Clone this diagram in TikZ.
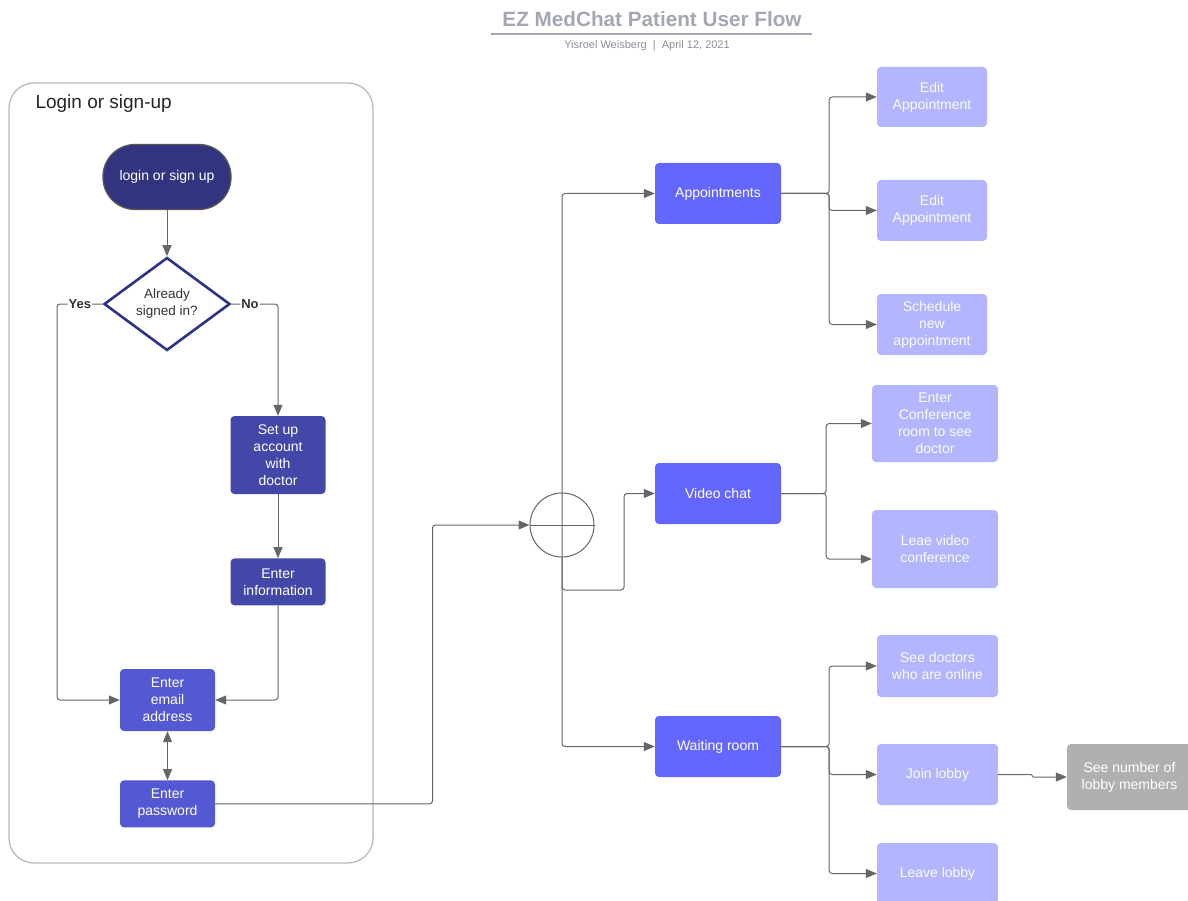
\documentclass[tikz,border=0pt]{standalone}
\usepackage{fontspec}
\setmainfont{Liberation Sans}
\usetikzlibrary{positioning,shapes.geometric,arrows.meta}
\definecolor{titlegray}{HTML}{A3A7B3}
\definecolor{darknavy}{HTML}{333480}
\definecolor{navyline}{HTML}{2E3384}
\definecolor{midnavy}{HTML}{4347A7}
\definecolor{softnavy}{HTML}{5358D3}
\definecolor{brightblue}{HTML}{6467FF}
\definecolor{paleblue}{HTML}{B3B5FF}
\definecolor{stonegray}{HTML}{B0B0B0}
\definecolor{linkgray}{HTML}{666666}
\definecolor{framegray}{HTML}{B8B8B8}
\newcommand{\boxfont}{\fontsize{14}{17}\selectfont}

\tikzset{
  card/.style={rectangle, rounded corners=4pt, inner sep=0pt, align=center,
    text=white, font=\boxfont},
  darkcard/.style={card, fill=midnavy, minimum width=95pt},
  emailcard/.style={card, fill=softnavy, minimum width=95pt},
  topic/.style={card, fill=brightblue, minimum width=126pt, minimum height=61pt},
  option/.style={card, fill=paleblue, text=white!96!paleblue},
  link/.style={draw=linkgray, line width=1pt, rounded corners=3pt,
    -{Triangle[length=11pt,width=9pt]}},
  plain/.style={draw=linkgray, line width=1pt},
  answer/.style={fill=white, inner sep=1pt, text=black!80,
    font=\fontsize{13}{15}\selectfont\bfseries}
}

\begin{document}
\begin{tikzpicture}[x=1pt,y=-1pt]
  \useasboundingbox (0,0) rectangle (1188,901);

  % Title
  \node[text=titlegray, font=\fontsize{20.7}{24}\selectfont\bfseries] (title) at (652,19) {EZ MedChat Patient User Flow};
  \draw[titlegray, line width=1.6pt] (491,34) -- (812,34);
  \node[text=titlegray!85!black, font=\fontsize{11}{13}\selectfont] (byline) at (647,46) {Yisroel Weisberg \ | \ April 12, 2021};

  % Login container
  \draw[framegray, line width=1.3pt, rounded corners=25pt] (9,83) rectangle (373,863);
  \node[anchor=west, text=black!85, font=\fontsize{19}{22}\selectfont] (boxlabel) at (32,104) {Login or sign-up};

  % Login flow
  \node[rectangle, rounded corners=32pt, fill=darknavy, draw=black!65, line width=1.3pt,
    minimum width=128pt, minimum height=65pt, text=white, font=\boxfont] (start) at (167,177) {login or sign up};
  \node[diamond, draw=navyline, line width=2.6pt, fill=white, aspect=1.35, inner sep=0pt,
    minimum width=126pt, minimum height=93pt, align=center, text=black!80,
    font=\fontsize{13.5}{17}\selectfont] (signed) at (167,304) {Already\\signed in?};
  \node[darkcard, minimum height=78pt] (setup) at (278,455) {Set up\\account\\with\\doctor};
  \node[darkcard, minimum height=47pt, below=64pt of setup] (info) {Enter\\information};
  \node[emailcard, minimum height=62pt] (email) at (167.5,700) {Enter\\email\\address};
  \node[emailcard, minimum height=47pt, below=49pt of email] (pw) {Enter\\password};

  \draw[link] (start) -- (signed);
  \draw[link] (signed.west) -- node[answer] {Yes} (57,304) |- (email.west);
  \draw[link] (signed.east) -| node[answer, pos=0.2] {No} (setup.north);
  \draw[link] (setup) -- (info);
  \draw[link] (info.south) |- (email.east);
  \draw[link, {Triangle[length=11pt,width=9pt]}-{Triangle[length=11pt,width=9pt]}] (email) -- (pw);

  % Junction
  \node[circle, draw=linkgray, line width=1pt, minimum size=64pt, inner sep=0pt] (junc) at (562,525) {};
  \draw[link] (pw.east) -| ([xshift=-97pt]junc.west) -- (junc.west);
  \draw[plain] (junc.west) -- (junc.east);

  % Main topics
  \node[topic] (appt)  at (718,193.5) {Appointments};
  \node[topic] (video) at (718,493.5) {Video chat};
  \node[topic] (wait)  at (718,746.5) {Waiting room};
  \coordinate (vjoin) at (624,590);

  \draw[link] (junc.center) |- (appt.west);
  \draw[link] (junc.center) |- (wait.west);
  \draw[link] (junc.south) |- (vjoin) |- (video.west);

  % Appointment options
  \node[option, minimum width=110pt, minimum height=60pt] (edit1) at (932,97) {Edit\\Appointment};
  \node[option, minimum width=110pt, minimum height=61pt] (edit2) at (932,210.5) {Edit\\Appointment};
  \node[option, minimum width=110pt, minimum height=61pt] (sched) at (932,324.5) {Schedule\\new\\appointment};
  \foreach \t in {edit1,edit2,sched}
    \draw[link] (appt.east) -- ++(48,0) |- (\t.west);

  % Video chat options
  \node[option, minimum width=126pt, minimum height=77pt] (conf) at (935,423.5) {Enter\\Conference\\room to see\\doctor};
  \node[option, minimum width=126pt, minimum height=78pt] (leave) at (935,549) {Leae video\\conference};
  \draw[link] (video.east) -- ++(45,0) |- (conf.west);
  \draw[link] (video.east) -- ++(45,0) |- ([yshift=-10pt]leave.west);

  % Waiting room options
  \node[option, minimum width=121pt, minimum height=62pt] (online) at (937.5,666) {See doctors\\who are online};
  \node[option, minimum width=121pt, minimum height=61pt] (join) at (937.5,774.5) {Join lobby};
  \node[option, minimum width=121pt, minimum height=61pt] (quit) at (937.5,873.5) {Leave lobby};
  \foreach \t in {online,join,quit}
    \draw[link] (wait.east) -- ++(48,0) |- (\t.west);

  \node[card, fill=stonegray, minimum width=125pt, minimum height=66pt] (count) at (1129.5,777) {See number of\\lobby members};
  \draw[link, rounded corners=1pt] (join.east) -- ++(34,0) |- (count.west);
\end{tikzpicture}
\end{document}
